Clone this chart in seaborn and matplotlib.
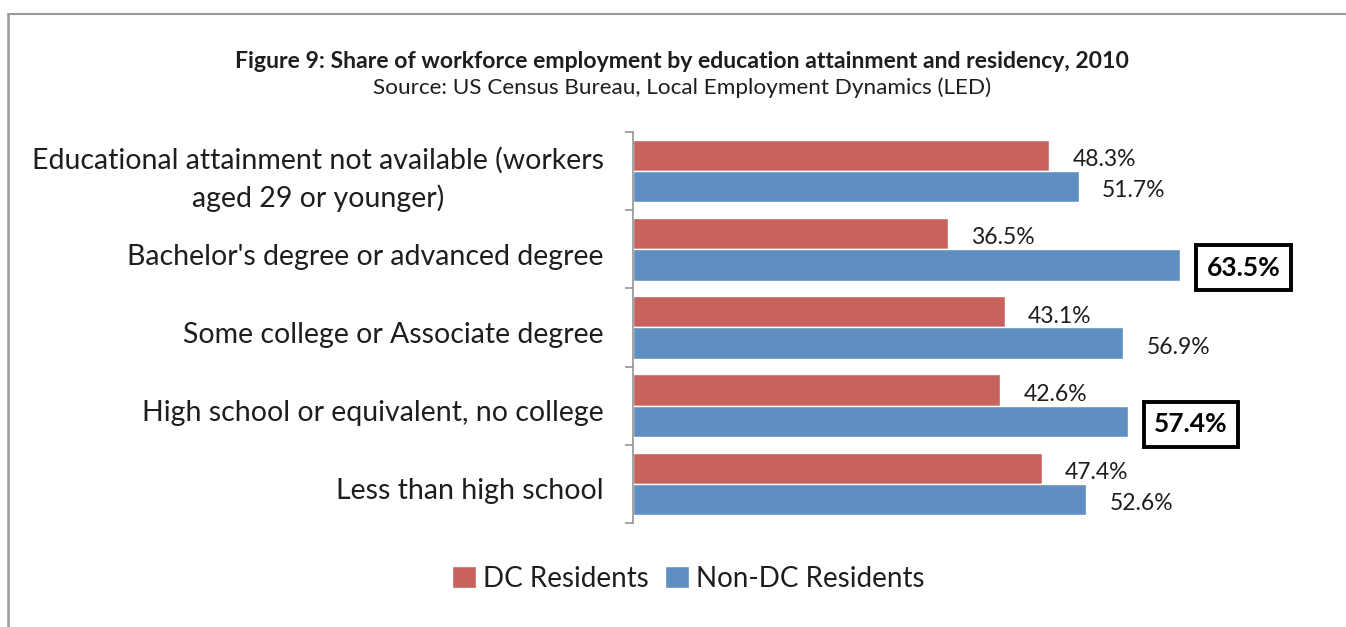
import matplotlib
matplotlib.use("Agg")
import matplotlib.pyplot as plt
from matplotlib.lines import Line2D
from matplotlib.transforms import ScaledTranslation
import numpy as np
import pandas as pd
import seaborn as sns

# Categories and shares (%) of workforce employment
categories = [
    "Educational attainment not available (workers\naged 29 or younger)",
    "Bachelor's degree or advanced degree",
    "Some college or Associate degree",
    "High school or equivalent, no college",
    "Less than high school",
]
series_names = ["DC Residents", "Non-DC Residents"]
dc_residents = [48.3, 36.5, 43.1, 42.6, 47.4]
non_dc_residents = [51.7, 63.5, 56.9, 57.4, 52.6]
# Non-DC values called out with a box
boxed_categories = ["Bachelor's degree or advanced degree",
                    "High school or equivalent, no college"]

title = "Figure 9: Share of workforce employment by education attainment and residency, 2010"
subtitle = "Source: US Census Bureau, Local Employment Dynamics (LED)"

palette = ["#C8625C", "#5F8FC0"]
text_color = "#1e1e1e"
axis_gray = "#8a8a8a"

df = pd.DataFrame({
    "category": categories * 2,
    "group": [series_names[0]] * len(categories) + [series_names[1]] * len(categories),
    "share": dc_residents + non_dc_residents,
})

sns.set_theme(style="white")
plt.rcParams["font.family"] = ["Lato", "DejaVu Sans"]

W, H = 1346, 627
fig = plt.figure(figsize=(W / 100, H / 100), dpi=100)
ax_left, ax_top, ax_bottom = 633 / W, 1 - 132 / H, 1 - 523 / H
xmax = 80
px_per_unit = 8.62
ax = fig.add_axes([ax_left, ax_bottom, xmax * px_per_unit / W, ax_top - ax_bottom])

sns.barplot(data=df, y="category", x="share", hue="group", order=categories,
            hue_order=series_names, palette=palette, orient="h", width=0.8,
            saturation=1, ax=ax, legend=True)

ax.set_xlim(0, xmax)
ax.set_ylim(len(categories) - 0.5, -0.5)
ax.set_xlabel("")
ax.set_ylabel("")
ax.set_xticks([])

for side in ["top", "right", "bottom"]:
    ax.spines[side].set_visible(False)
ax.spines["left"].set_color(axis_gray)
ax.spines["left"].set_linewidth(1.1)

# Category labels at the band centres, tick marks at band boundaries
ax.set_yticks(np.arange(len(categories)))
ax.set_yticklabels(categories, fontsize=20.5, color=text_color, multialignment="center",
                   linespacing=1.45)
ax.tick_params(axis="y", which="major", left=True, length=0, pad=21)
ax.set_yticks(np.arange(len(categories) + 1) - 0.5, minor=True)
ax.tick_params(axis="y", which="minor", left=True, length=6, width=1.1,
               color=axis_gray, direction="out")
# Nudge the single-line category labels slightly below the band centres
for lbl in ax.get_yticklabels():
    dy = -1 if "\n" in lbl.get_text() else -5
    lbl.set_transform(lbl.get_transform() + ScaledTranslation(0, dy / 100, fig.dpi_scale_trans))

# Value labels
for container, name in zip(ax.containers, series_names):
    for bar, cat in zip(container, categories):
        value = bar.get_width()
        yc = bar.get_y() + bar.get_height() / 2
        label = f"{value:.1f}%"
        if name == series_names[1] and cat in boxed_categories:
            ax.annotate(label, xy=(value, yc), xytext=(19, -2), textcoords="offset points",
                        ha="left", va="center", fontsize=19, fontweight="bold", color="black",
                        bbox=dict(boxstyle="square,pad=0.4", fc="white", ec="black", lw=2.8))
        else:
            ax.annotate(label, xy=(value, yc), xytext=(17, -3), textcoords="offset points",
                        ha="left", va="center", fontsize=16.5, color=text_color)

# Legend below the plot
handles, labels = ax.get_legend_handles_labels()
ax.legend(handles, labels, loc="center", bbox_to_anchor=(688 / W, 1 - 579 / H),
          bbox_transform=fig.transFigure, ncol=2, frameon=False, fontsize=20,
          handlelength=0.85, handleheight=0.85, handletextpad=0.25, columnspacing=0.6,
          labelcolor=text_color)

# Title and source line
fig.text(682 / W, 1 - 61 / H, title, ha="center", va="center", fontsize=16.6,
         fontweight="bold", color=text_color)
fig.text(682 / W, 1 - 88 / H, subtitle, ha="center", va="center", fontsize=16.2,
         color=text_color)

# Chart frame edges
fig.add_artist(Line2D([8 / W, 1], [1 - 14 / H, 1 - 14 / H], transform=fig.transFigure,
                      color="#9a9a9a", lw=1.5))
fig.add_artist(Line2D([8 / W, 8 / W], [0, 1 - 14 / H], transform=fig.transFigure,
                      color="#9a9a9a", lw=1.8))

fig.savefig("out.png", dpi=100, facecolor="white")
